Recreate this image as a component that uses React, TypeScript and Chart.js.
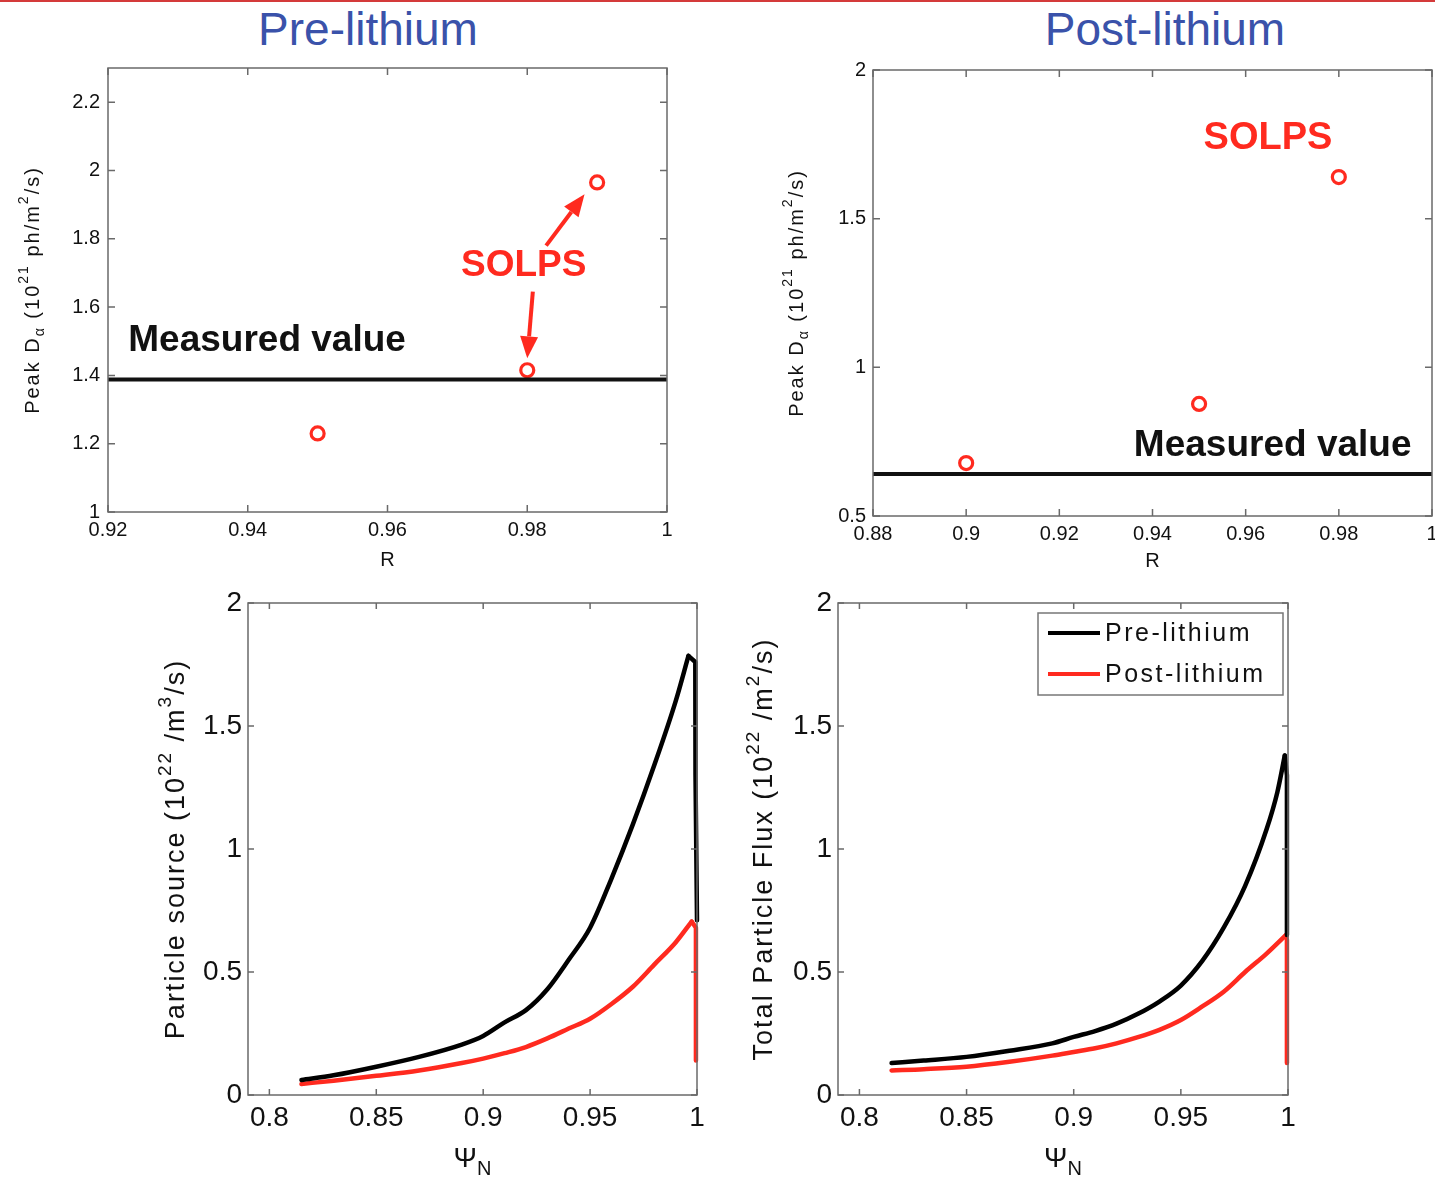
import React, { useEffect, useRef } from 'react';
import { Chart, registerables } from 'chart.js';
Chart.register(...registerables);

const FONT = '"Liberation Sans", Arial, Helvetica, sans-serif';
const RED = '#ff2a1f';
const BLUE = 'rgb(58, 82, 170)';

// ---------- Top-left: Pre-lithium peak D-alpha vs R ----------
const preR = [0.95, 0.98, 0.99];
const preDalpha = [1.23, 1.415, 1.965];
const preMeasured = 1.388;

// ---------- Top-right: Post-lithium peak D-alpha vs R ----------
const postR = [0.9, 0.95, 0.98];
const postDalpha = [0.678, 0.877, 1.64];
const postMeasured = 0.641;

// ---------- Bottom-left: particle source vs psi_N ----------
const srcPrePsi = [0.815, 0.83, 0.85, 0.87, 0.89, 0.9, 0.91, 0.92, 0.93, 0.94, 0.95, 0.96, 0.97, 0.98, 0.99, 0.996];
const srcPre = [0.061, 0.08, 0.115, 0.155, 0.205, 0.24, 0.295, 0.345, 0.43, 0.55, 0.68, 0.88, 1.1, 1.34, 1.6, 1.785];
const srcPreDropPsi = [0.996, 0.9992, 0.9993, 1.0];
const srcPreDrop = [1.785, 1.76, 1.3, 0.71];
const srcPostPsi = [0.815, 0.83, 0.85, 0.87, 0.89, 0.9, 0.91, 0.92, 0.93, 0.94, 0.95, 0.96, 0.97, 0.98, 0.99, 0.9975];
const srcPost = [0.045, 0.058, 0.078, 0.1, 0.13, 0.148, 0.17, 0.195, 0.23, 0.27, 0.31, 0.37, 0.44, 0.53, 0.62, 0.705];
const srcPostDropPsi = [0.9975, 0.9995, 0.9995];
const srcPostDrop = [0.705, 0.68, 0.14];

// ---------- Bottom-right: total particle flux vs psi_N ----------
const fluxPrePsi = [0.815, 0.83, 0.85, 0.87, 0.89, 0.9, 0.91, 0.92, 0.93, 0.94, 0.95, 0.96, 0.97, 0.98, 0.99, 0.995, 0.9985];
const fluxPre = [0.13, 0.14, 0.155, 0.18, 0.21, 0.236, 0.26, 0.29, 0.33, 0.38, 0.445, 0.545, 0.68, 0.85, 1.08, 1.23, 1.38];
const fluxPreDropPsi = [0.9985, 0.9995, 0.9995];
const fluxPreDrop = [1.38, 1.3, 0.65];
const fluxPostPsi = [0.815, 0.83, 0.85, 0.87, 0.89, 0.9, 0.91, 0.92, 0.93, 0.94, 0.95, 0.96, 0.97, 0.98, 0.99, 0.999];
const fluxPost = [0.1, 0.105, 0.115, 0.135, 0.16, 0.175, 0.19, 0.21, 0.235, 0.265, 0.305, 0.36, 0.42, 0.5, 0.575, 0.65];
const fluxPostDropPsi = [0.999, 0.9995, 0.9995];
const fluxPostDrop = [0.65, 0.63, 0.13];

const seriesLabels = ['Pre-lithium', 'Post-lithium'];

type Seg = { t: string; s?: 'sup' | 'sub' };

const pts = (xs: number[], ys: number[]) => xs.map((x, i) => ({ x, y: ys[i] }));

function drawRich(ctx: CanvasRenderingContext2D, segs: Seg[], cx: number, cy: number, size: number, rotate: boolean, color: string, spacing: number) {
  ctx.save();
  ctx.translate(cx, cy);
  if (rotate) ctx.rotate(-Math.PI / 2);
  (ctx as any).letterSpacing = `${spacing}px`;
  const fontFor = (s: Seg) => `${s.s ? Math.round(size * 0.72) : size}px ${FONT}`;
  let total = 0;
  segs.forEach((s) => {
    ctx.font = fontFor(s);
    total += ctx.measureText(s.t).width;
  });
  let x = -total / 2;
  ctx.textBaseline = 'middle';
  ctx.textAlign = 'left';
  ctx.fillStyle = color;
  segs.forEach((s) => {
    ctx.font = fontFor(s);
    const dy = s.s === 'sup' ? -size * 0.42 : s.s === 'sub' ? size * 0.38 : 0;
    ctx.fillText(s.t, x, dy);
    x += ctx.measureText(s.t).width;
  });
  (ctx as any).letterSpacing = '0px';
  ctx.restore();
}

type Spec = {
  tickLen: number;
  yTitle: Seg[];
  yTitleGap: number;
  yTitleSize: number;
  yTitleSpacing: number;
  xTitle: Seg[];
  xTitleGap: number;
  xTitleSize: number;
  texts?: { x: number; y: number; text: string; color: string; size: number; align: CanvasTextAlign }[];
  arrows?: { x1: number; y1: number; x2: number; y2: number }[];
  legend?: boolean;
  legendSize?: number;
};

function makeDecor(spec: Spec) {
  return {
    id: 'decor',
    afterDatasetsDraw(chart: any) {
      const ctx: CanvasRenderingContext2D = chart.ctx;
      const a = chart.chartArea;
      const xs = chart.scales.x;
      const ys = chart.scales.y;
      ctx.save();
      // frame
      ctx.strokeStyle = '#6a6a6a';
      ctx.lineWidth = 1.5;
      ctx.strokeRect(a.left, a.top, a.right - a.left, a.bottom - a.top);
      // inward ticks on all sides
      ctx.beginPath();
      xs.ticks.forEach((t: any) => {
        const p = xs.getPixelForValue(t.value);
        ctx.moveTo(p, a.bottom);
        ctx.lineTo(p, a.bottom - spec.tickLen);
        ctx.moveTo(p, a.top);
        ctx.lineTo(p, a.top + spec.tickLen);
      });
      ys.ticks.forEach((t: any) => {
        const p = ys.getPixelForValue(t.value);
        ctx.moveTo(a.left, p);
        ctx.lineTo(a.left + spec.tickLen, p);
        ctx.moveTo(a.right, p);
        ctx.lineTo(a.right - spec.tickLen, p);
      });
      ctx.stroke();

      // arrows
      (spec.arrows || []).forEach((ar) => {
        const x1 = xs.getPixelForValue(ar.x1), y1 = ys.getPixelForValue(ar.y1);
        const x2 = xs.getPixelForValue(ar.x2), y2 = ys.getPixelForValue(ar.y2);
        const ang = Math.atan2(y2 - y1, x2 - x1);
        const hl = 22, hw = 9;
        const bx = x2 - hl * Math.cos(ang), by = y2 - hl * Math.sin(ang);
        ctx.strokeStyle = RED;
        ctx.fillStyle = RED;
        ctx.lineWidth = 4;
        ctx.beginPath();
        ctx.moveTo(x1, y1);
        ctx.lineTo(bx, by);
        ctx.stroke();
        ctx.beginPath();
        ctx.moveTo(x2, y2);
        ctx.lineTo(bx + hw * Math.sin(ang), by - hw * Math.cos(ang));
        ctx.lineTo(bx - hw * Math.sin(ang), by + hw * Math.cos(ang));
        ctx.closePath();
        ctx.fill();
      });

      // texts
      (spec.texts || []).forEach((tx) => {
        ctx.font = `bold ${tx.size}px ${FONT}`;
        ctx.fillStyle = tx.color;
        ctx.textAlign = tx.align;
        ctx.textBaseline = 'middle';
        ctx.fillText(tx.text, xs.getPixelForValue(tx.x), ys.getPixelForValue(tx.y));
      });

      // legend
      if (spec.legend) {
        const size = spec.legendSize || 25;
        const w = 245, h = 82;
        const lx = a.right - 5 - w, ly = a.top + 10;
        ctx.fillStyle = '#fff';
        ctx.fillRect(lx, ly, w, h);
        ctx.strokeStyle = '#777';
        ctx.lineWidth = 1.5;
        ctx.strokeRect(lx, ly, w, h);
        chart.data.datasets
          .filter((ds: any) => seriesLabels.includes(ds.label))
          .forEach((ds: any, i: number) => {
            const yy = ly + 20 + i * 41;
            ctx.strokeStyle = ds.borderColor;
            ctx.lineWidth = 4;
            ctx.beginPath();
            ctx.moveTo(lx + 10, yy);
            ctx.lineTo(lx + 62, yy);
            ctx.stroke();
            ctx.fillStyle = '#111';
            ctx.font = `${size}px ${FONT}`;
            (ctx as any).letterSpacing = '2.5px';
            ctx.textAlign = 'left';
            ctx.textBaseline = 'middle';
            ctx.fillText(ds.label, lx + 67, yy + 1);
            (ctx as any).letterSpacing = '0px';
          });
      }

      // axis titles
      drawRich(ctx, spec.yTitle, a.left - spec.yTitleGap, (a.top + a.bottom) / 2, spec.yTitleSize, true, '#111', spec.yTitleSpacing);
      drawRich(ctx, spec.xTitle, (a.left + a.right) / 2, a.bottom + spec.xTitleGap, spec.xTitleSize, false, '#111', 0);
      ctx.restore();
    },
  };
}

type AxisSpec = {
  xMin: number; xMax: number; xStep: number;
  yMin: number; yMax: number; yStep: number;
  yWidth: number; xHeight: number;
  tickSize: number; yTickPad: number; xTickPad: number;
  padTop: number; padRight: number;
};

const fmt = (v: any) => String(Number(Number(v).toFixed(4)));

function makeOptions(ax: AxisSpec) {
  const tickFont = { family: FONT, size: ax.tickSize };
  return {
    responsive: false,
    animation: false,
    layout: { autoPadding: false, padding: { top: ax.padTop, right: ax.padRight, left: 0, bottom: 0 } },
    plugins: { legend: { display: false }, tooltip: { enabled: false } },
    scales: {
      x: {
        type: 'linear',
        min: ax.xMin, max: ax.xMax,
        grid: { display: false, drawTicks: false },
        border: { display: false },
        ticks: { stepSize: ax.xStep, includeBounds: false, autoSkip: false, maxRotation: 0, padding: ax.xTickPad, color: '#111', font: tickFont, callback: fmt },
        afterFit: (s: any) => { s.height = ax.xHeight; s.paddingLeft = 0; s.paddingRight = 0; },
      },
      y: {
        type: 'linear',
        min: ax.yMin, max: ax.yMax,
        grid: { display: false, drawTicks: false },
        border: { display: false },
        ticks: { stepSize: ax.yStep, includeBounds: false, autoSkip: false, padding: ax.yTickPad, color: '#111', font: tickFont, callback: fmt },
        afterFit: (s: any) => { s.width = ax.yWidth; s.paddingTop = 0; s.paddingBottom = 0; },
      },
    },
  };
}

function ChartBox({ left, top, width, height, build }: { left: number; top: number; width: number; height: number; build: () => any }) {
  const ref = useRef<HTMLCanvasElement>(null);
  useEffect(() => {
    const chart = new Chart(ref.current as HTMLCanvasElement, build());
    return () => chart.destroy();
  }, []);
  return <canvas ref={ref} width={width} height={height} style={{ position: 'absolute', left, top, width, height }} />;
}

const markerDs = (xs: number[], ys: number[]) => ({
  label: 'SOLPS',
  data: pts(xs, ys),
  showLine: false,
  pointStyle: 'circle',
  pointRadius: 6.5,
  pointBorderWidth: 3.2,
  pointBorderColor: RED,
  pointBackgroundColor: 'rgba(255,255,255,0)',
  borderColor: RED,
  clip: false,
});

const measuredDs = (x0: number, x1: number, y: number) => ({
  label: 'Measured value',
  data: [{ x: x0, y }, { x: x1, y }],
  showLine: true,
  borderColor: '#111',
  borderWidth: 4,
  pointRadius: 0,
  clip: false,
});

const curveDs = (label: string, xs: number[], ys: number[], color: string, smooth: boolean) => ({
  label,
  data: pts(xs, ys),
  showLine: true,
  borderColor: color,
  backgroundColor: color,
  borderWidth: 4.5,
  pointRadius: 0,
  cubicInterpolationMode: smooth ? 'monotone' : 'default',
  tension: 0,
  clip: false,
  borderJoinStyle: 'round',
  borderCapStyle: 'round',
});

const yTitleDalpha: Seg[] = [
  { t: 'Peak D' }, { t: 'α', s: 'sub' }, { t: ' (10' }, { t: '21', s: 'sup' }, { t: ' ph/m' }, { t: '2', s: 'sup' }, { t: '/s)' },
];
const xTitleR: Seg[] = [{ t: 'R' }];
const xTitlePsi: Seg[] = [{ t: 'Ψ' }, { t: 'N', s: 'sub' }];

function buildTL() {
  return {
    type: 'scatter',
    data: { datasets: [measuredDs(0.92, 1, preMeasured), markerDs(preR, preDalpha)] },
    options: makeOptions({ xMin: 0.92, xMax: 1, xStep: 0.02, yMin: 1, yMax: 2.3, yStep: 0.2, yWidth: 108, xHeight: 68, tickSize: 20, yTickPad: 8, xTickPad: 6, padTop: 28, padRight: 33 }),
    plugins: [makeDecor({
      tickLen: 7, yTitle: yTitleDalpha, yTitleGap: 75, yTitleSize: 20, yTitleSpacing: 2, xTitle: xTitleR, xTitleGap: 48, xTitleSize: 20,
      texts: [
        { x: 0.9795, y: 1.72, text: 'SOLPS', color: RED, size: 37, align: 'center' },
        { x: 0.9229, y: 1.5, text: 'Measured value', color: '#111', size: 37, align: 'left' },
      ],
      arrows: [
        { x1: 0.9827, y1: 1.78, x2: 0.9882, y2: 1.93 },
        { x1: 0.9808, y1: 1.645, x2: 0.98, y2: 1.45 },
      ],
    })],
  };
}

function buildTR() {
  return {
    type: 'scatter',
    data: { datasets: [measuredDs(0.88, 1, postMeasured), markerDs(postR, postDalpha)] },
    options: makeOptions({ xMin: 0.88, xMax: 1, xStep: 0.02, yMin: 0.5, yMax: 2, yStep: 0.5, yWidth: 143, xHeight: 64, tickSize: 20, yTickPad: 7, xTickPad: 6, padTop: 30, padRight: 3 }),
    plugins: [makeDecor({
      tickLen: 7, yTitle: yTitleDalpha, yTitleGap: 76, yTitleSize: 20, yTitleSpacing: 2, xTitle: xTitleR, xTitleGap: 45, xTitleSize: 20,
      texts: [
        { x: 0.9648, y: 1.77, text: 'SOLPS', color: RED, size: 38, align: 'center' },
        { x: 0.9658, y: 0.735, text: 'Measured value', color: '#111', size: 37, align: 'center' },
      ],
    })],
  };
}

function buildBL() {
  return {
    type: 'scatter',
    data: {
      datasets: [
        curveDs(seriesLabels[0], srcPrePsi, srcPre, '#000', true),
        curveDs('', srcPreDropPsi, srcPreDrop, '#000', false),
        curveDs(seriesLabels[1], srcPostPsi, srcPost, RED, true),
        curveDs('', srcPostDropPsi, srcPostDrop, RED, false),
      ],
    },
    options: makeOptions({ xMin: 0.79, xMax: 1, xStep: 0.05, yMin: 0, yMax: 2, yStep: 0.5, yWidth: 148, xHeight: 84, tickSize: 28, yTickPad: 6, xTickPad: 6, padTop: 23, padRight: 23 }),
    plugins: [makeDecor({
      tickLen: 6,
      yTitle: [{ t: 'Particle source (10' }, { t: '22', s: 'sup' }, { t: ' /m' }, { t: '3', s: 'sup' }, { t: '/s)' }],
      yTitleGap: 71, yTitleSize: 27, yTitleSpacing: 2, xTitle: xTitlePsi, xTitleGap: 64, xTitleSize: 28,
    })],
  };
}

function buildBR() {
  return {
    type: 'scatter',
    data: {
      datasets: [
        curveDs(seriesLabels[0], fluxPrePsi, fluxPre, '#000', true),
        curveDs('', fluxPreDropPsi, fluxPreDrop, '#000', false),
        curveDs(seriesLabels[1], fluxPostPsi, fluxPost, RED, true),
        curveDs('', fluxPostDropPsi, fluxPostDrop, RED, false),
      ],
    },
    options: makeOptions({ xMin: 0.79, xMax: 1, xStep: 0.05, yMin: 0, yMax: 2, yStep: 0.5, yWidth: 118, xHeight: 84, tickSize: 28, yTickPad: 6, xTickPad: 6, padTop: 23, padRight: 32 }),
    plugins: [makeDecor({
      tickLen: 6,
      yTitle: [{ t: 'Total Particle Flux (10' }, { t: '22', s: 'sup' }, { t: ' /m' }, { t: '2', s: 'sup' }, { t: '/s)' }],
      yTitleGap: 73, yTitleSize: 27, yTitleSpacing: 2, xTitle: xTitlePsi, xTitleGap: 64, xTitleSize: 28,
      legend: true, legendSize: 25,
    })],
  };
}

export default function App() {
  const titleStyle: React.CSSProperties = {
    position: 'absolute', top: 0, height: 58, lineHeight: '58px', textAlign: 'center',
    fontFamily: FONT, fontSize: 46, color: BLUE, margin: 0, fontWeight: 'normal',
  };
  return (
    <div style={{ position: 'absolute', left: 0, top: 0, width: 1435, height: 1179, background: '#fff', overflow: 'hidden' }}>
      <div style={{ position: 'absolute', left: 0, top: 0, width: 1435, height: 2, background: '#d43a3a' }} />
      <div style={{ ...titleStyle, left: 168, width: 400 }}>Pre-lithium</div>
      <div style={{ ...titleStyle, left: 965, width: 400 }}>Post-lithium</div>
      <ChartBox left={0} top={40} width={700} height={540} build={buildTL} />
      <ChartBox left={730} top={40} width={705} height={540} build={buildTR} />
      <ChartBox left={100} top={580} width={620} height={599} build={buildBL} />
      <ChartBox left={720} top={580} width={600} height={599} build={buildBR} />
    </div>
  );
}
